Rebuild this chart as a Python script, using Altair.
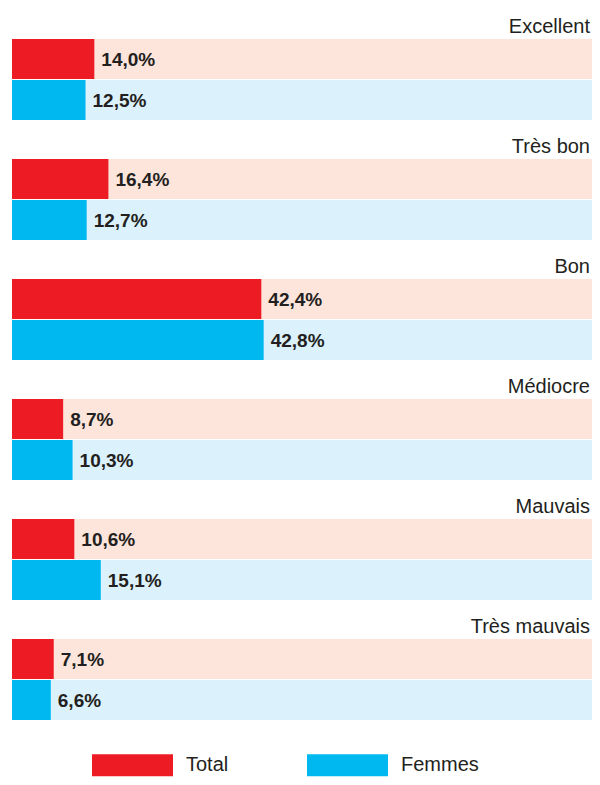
import altair as alt
import pandas as pd

categories = ["Excellent", "Très bon", "Bon", "Médiocre", "Mauvais", "Très mauvais"]
series = ["Total", "Femmes"]
total = [14.0, 16.4, 42.4, 8.7, 10.6, 7.1]
femmes = [12.5, 12.7, 42.8, 10.3, 15.1, 6.6]
full_scale = 100

bar_colors = ["#ED1C24", "#00B8F0"]
bg_colors = ["#FDE5DC", "#DBF1FC"]

PLOT_W = 580
X_MAX = PLOT_W / 5.88  # percent visible across the plot width

rows = []
for i, c in enumerate(categories):
    for s, vals, bgc in zip(series, [total, femmes], bg_colors):
        v = vals[i]
        rows.append({
            "cat": c,
            "series": s,
            "value": v,
            "label": f"{v:.1f}".replace(".", ",") + "%",
            "bg": full_scale,
            "bgcolor": bgc,
        })
df = pd.DataFrame(rows)
cats_df = pd.DataFrame({"cat": categories})

FONT = "Liberation Sans, Arial, sans-serif"
TXT = "#231F20"

y_enc = alt.Y("cat:N", sort=categories,
              scale=alt.Scale(paddingInner=0.325, paddingOuter=0), axis=None)
yoff = alt.YOffset("series:N", sort=series, scale=alt.Scale(paddingInner=0.025))
x_scale = alt.Scale(domain=[0, X_MAX], nice=False, zero=True, clamp=True)

base = alt.Chart(df)

bg = base.mark_bar().encode(
    x=alt.X("bg:Q", scale=x_scale, axis=None),
    y=y_enc, yOffset=yoff,
    color=alt.Color("bgcolor:N", scale=None),
)

bars = base.mark_bar().encode(
    x=alt.X("value:Q", scale=x_scale, axis=None),
    y=y_enc, yOffset=yoff,
    color=alt.Color(
        "series:N", sort=series,
        scale=alt.Scale(domain=series, range=bar_colors),
        legend=alt.Legend(
            title=None, orient="none", legendX=80, legendY=685.5,
            direction="horizontal", columns=2,
            symbolType="M-1,-0.2716H1V0.2716H-1Z", symbolSize=6561,
            symbolStrokeWidth=0, symbolOpacity=1,
            labelFont=FONT, labelFontSize=20, labelColor=TXT,
            labelOffset=13, columnPadding=78, padding=0,
        ),
    ),
)

vals = base.mark_text(align="left", baseline="middle", dx=7, dy=1,
                      font=FONT, fontSize=19, fontWeight="bold", color=TXT).encode(
    x=alt.X("value:Q", scale=x_scale, axis=None),
    y=y_enc, yOffset=yoff,
    text="label:N",
)

cat_labels = alt.Chart(cats_df).mark_text(align="right", baseline="alphabetic", dx=-2, dy=-6,
                                          font=FONT, fontSize=20, color=TXT).encode(
    x=alt.datum(X_MAX, scale=x_scale),
    y=alt.Y("cat:N", sort=categories, bandPosition=0,
            scale=alt.Scale(paddingInner=0.325, paddingOuter=0), axis=None),
    text="cat:N",
)

chart = alt.layer(bg, bars, vals, cat_labels).properties(
    width=PLOT_W, height=681,
    autosize=alt.AutoSizeParams(type="none"),
    padding={"left": 4, "top": 31, "right": 0, "bottom": 57},
).configure_view(stroke=None).configure_bar(binSpacing=0)

chart.save("out.html", embed_options={"renderer": "svg", "actions": False})
